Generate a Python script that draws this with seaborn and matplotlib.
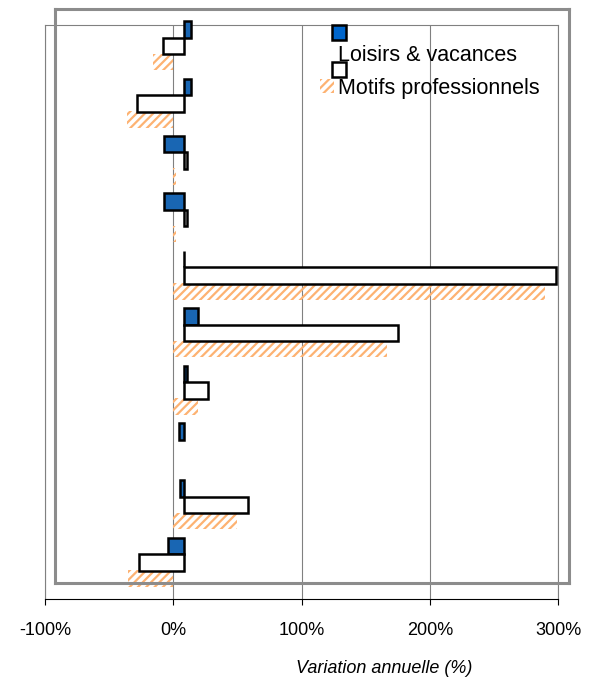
import numpy as np
import pandas as pd
import seaborn as sns
import matplotlib.pyplot as plt
import matplotlib.patches as mpatches

# --- Données ---
categories = [f"Poste {i}" for i in range(1, 11)]
serie_loisirs = "Loisirs & vacances"
serie_pro = "Motifs professionnels"
loisirs = [6, 6, -15, -15, 0.5, 11, 3, -3.5, -3, -12]
motifs = [-16, -36, 2.5, 2.5, 290, 167, 19, np.nan, 50, -35]
xticks = [-100, 0, 100, 200, 300]

df = pd.DataFrame({
    "categorie": categories * 2,
    "serie": [serie_loisirs] * len(categories) + [serie_pro] * len(categories),
    "variation": loisirs + motifs,
})

sns.set_style("white")
plt.rcParams['font.family'] = ['Liberation Sans', 'DejaVu Sans']
plt.rcParams['text.color'] = 'black'
plt.rcParams['xtick.color'] = 'black'
plt.rcParams['hatch.linewidth'] = 1.6

W, H = 597, 682
fig = plt.figure(figsize=(W / 100, H / 100), dpi=100)
ax = fig.add_axes([45 / W, 83 / H, 513 / W, 574 / H])
ax2 = fig.add_axes([55 / W, 99 / H, 514 / W, 574 / H])

hatch_col = "#FDB272"
blue = "#0066CC"

# --- Graphique principal (barres hachurées) ---
sns.barplot(data=df, x="variation", y="categorie", hue="serie", orient="h",
            width=0.575, errorbar=None, legend=False, ax=ax,
            palette={serie_loisirs: "white", serie_pro: "white"})
for p in ax.containers[0]:
    p.set_visible(False)
for p in ax.containers[1]:
    p.set_facecolor("none")
    p.set_edgecolor(hatch_col)
    p.set_hatch("////")
    p.set_linewidth(0)

ax.set_xlim(-100, 300)
ax.set_xticks(xticks)
ax.set_xticklabels([f"{v}%" for v in xticks], fontsize=13, color="black")
ax.set_yticks([])
ax.set_ylabel("")
ax.tick_params(axis="x", bottom=True, direction="out", length=4.5, width=0.8,
               color="black", pad=12)
ax.grid(True, axis="x", color="#808080", lw=0.8)
ax.set_axisbelow(True)
for s in ["left", "top", "right"]:
    ax.spines[s].set_color("#808080")
    ax.spines[s].set_linewidth(0.8)
ax.spines["bottom"].set_color("black")
ax.spines["bottom"].set_linewidth(0.8)
ax.set_xlabel("Variation annuelle (%)", fontsize=13, fontstyle="italic", color="black")
ax.xaxis.set_label_coords(0.661, -0.107)

# --- Graphique superposé (barres pleines), légèrement décalé ---
sns.barplot(data=df, x="variation", y="categorie", hue="serie", orient="h",
            width=0.575, errorbar=None, legend=False, ax=ax2,
            palette={serie_loisirs: blue, serie_pro: "white"},
            edgecolor="black", linewidth=1.8)
ax2.set_xlim(-100, 300)
ax2.set_facecolor("none")
ax2.set_xticks([])
ax2.set_yticks([])
ax2.set_xlabel("")
ax2.set_ylabel("")
for s in ax2.spines.values():
    s.set_color("#8c8c8c")
    s.set_linewidth(2.2)

# --- Légendes ---
h_main = [mpatches.Patch(facecolor="none", edgecolor="none"),
          mpatches.Patch(facecolor="none", edgecolor=hatch_col, hatch="////", lw=0)]
leg1 = fig.legend(h_main, [serie_loisirs, serie_pro], loc="upper left",
                  bbox_to_anchor=(320 / W, 1 - 45 / H), frameon=False, fontsize=15.5,
                  handlelength=0.65, handleheight=0.65, handletextpad=0.2,
                  labelspacing=0.55, borderpad=0, borderaxespad=0)
for t in leg1.get_texts():
    t.set_color("black")

# légende décalée du graphique superposé : symboles seuls
h_over = [mpatches.Patch(facecolor=blue, edgecolor="black", lw=1.8),
          mpatches.Patch(facecolor="white", edgecolor="black", lw=1.8)]
leg2 = fig.legend(h_over, ["", ""], loc="upper left",
                  bbox_to_anchor=(332 / W, 1 - 24 / H), frameon=False, fontsize=15.5,
                  handlelength=0.65, handleheight=0.65, handletextpad=0.2,
                  labelspacing=0.74, borderpad=0, borderaxespad=0)

fig.savefig("out.png", dpi=100)
